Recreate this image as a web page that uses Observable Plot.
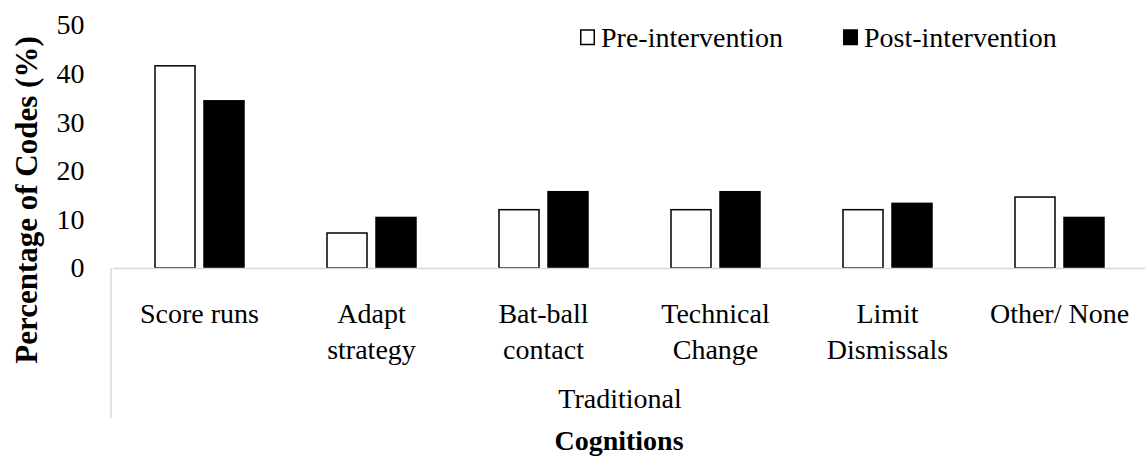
<!DOCTYPE html>
<html>
<head>
<meta charset="utf-8">
<script src="https://cdn.jsdelivr.net/npm/d3@7"></script>
<script src="https://cdn.jsdelivr.net/npm/@observablehq/plot@0.6"></script>
<style>
  html, body { margin: 0; padding: 0; background: #fff; }
  #chart { width: 1146px; height: 457px; overflow: hidden; }
</style>
</head>
<body>
<div id="chart"></div>
<script>
const categories = ["Score runs", "Adapt strategy", "Bat-ball contact", "Technical Change", "Limit Dismissals", "Other/ None"];
const tickLabels = ["Score runs", "Adapt\nstrategy", "Bat-ball\ncontact", "Technical\nChange", "Limit\nDismissals", "Other/ None"];
const series = ["Pre-intervention", "Post-intervention"];
const preValues = [41.6, 7.2, 12.0, 12.0, 12.0, 14.6];
const postValues = [34.4, 10.4, 15.7, 15.7, 13.3, 10.4];
const yTicks = [0, 10, 20, 30, 40, 50];
const groupLabel = "Traditional";
const xTitle = "Cognitions";
const yTitle = "Percentage of Codes (%)";

const rows = [];
categories.forEach((c, i) => {
  rows.push({category: c, series: series[0], value: preValues[i]});
  rows.push({category: c, series: series[1], value: postValues[i]});
});
const labelOf = new Map(categories.map((c, i) => [c, tickLabels[i]]));

const FONT = "'Liberation Serif', 'Times New Roman', serif";
const W = 1146, H = 457;

const chart = Plot.plot({
  width: W,
  height: H,
  marginLeft: 111,
  marginRight: 0,
  marginTop: 25,
  marginBottom: 189,
  style: {fontFamily: FONT, fontSize: "28px", color: "#000", background: "#fff", overflow: "visible"},
  fx: {domain: categories, padding: 0, label: null},
  x: {domain: series, paddingInner: 0.184, paddingOuter: 0.837, axis: null},
  y: {domain: [0, 50], axis: null},
  color: {domain: series, range: ["#ffffff", "#000000"]},
  marks: [
    Plot.barY(rows, {
      fx: "category",
      x: "series",
      y: "value",
      fill: "series",
      stroke: "#000",
      strokeWidth: 1.5
    }),
    Plot.ruleY([0], {stroke: "#d9d9d9", strokeWidth: 1.5}),
    Plot.axisY({
      ticks: yTicks,
      tickSize: 0,
      tickPadding: 29,
      fontSize: 28,
      label: null
    }),
    Plot.axisFx({
      anchor: "bottom",
      tickSize: 0,
      tickPadding: 29,
      fontSize: 28,
      lineHeight: 1.29,
      tickFormat: (d) => labelOf.get(d),
      label: null
    })
  ]
});

document.getElementById("chart").appendChild(chart);

// Decorations (titles, legend, category-frame line)
const svg = d3.select(chart);
const g = svg.append("g").attr("font-family", FONT).attr("fill", "#000").attr("text-anchor", "start");

// left frame line below the axis (multi-level category axis divider)
g.append("line")
  .attr("x1", 111).attr("x2", 111)
  .attr("y1", 268).attr("y2", 418)
  .attr("stroke", "#d9d9d9").attr("stroke-width", 1.5);

// group label
g.append("text")
  .attr("x", 620).attr("y", 408)
  .attr("text-anchor", "middle")
  .attr("font-size", 28)
  .text(groupLabel);

// x title
g.append("text")
  .attr("x", 619).attr("y", 450)
  .attr("text-anchor", "middle")
  .attr("font-size", 28)
  .attr("font-weight", "bold")
  .text(xTitle);

// y title
g.append("text")
  .attr("transform", "translate(37,200) rotate(-90)")
  .attr("text-anchor", "middle")
  .attr("font-size", 31)
  .attr("font-weight", "bold")
  .text(yTitle);

// legend
const legendX = [580, 843];
series.forEach((s, i) => {
  const lg = g.append("g").attr("transform", `translate(${legendX[i]},0)`);
  lg.append("rect")
    .attr("x", 0.75).attr("y", 30)
    .attr("width", 13.5).attr("height", 14.5)
    .attr("fill", i === 0 ? "#fff" : "#000")
    .attr("stroke", "#000").attr("stroke-width", 1.5);
  lg.append("text")
    .attr("x", 21).attr("y", 47)
    .attr("text-anchor", "start")
    .attr("font-size", 28)
    .text(s);
});
</script>
</body>
</html>
